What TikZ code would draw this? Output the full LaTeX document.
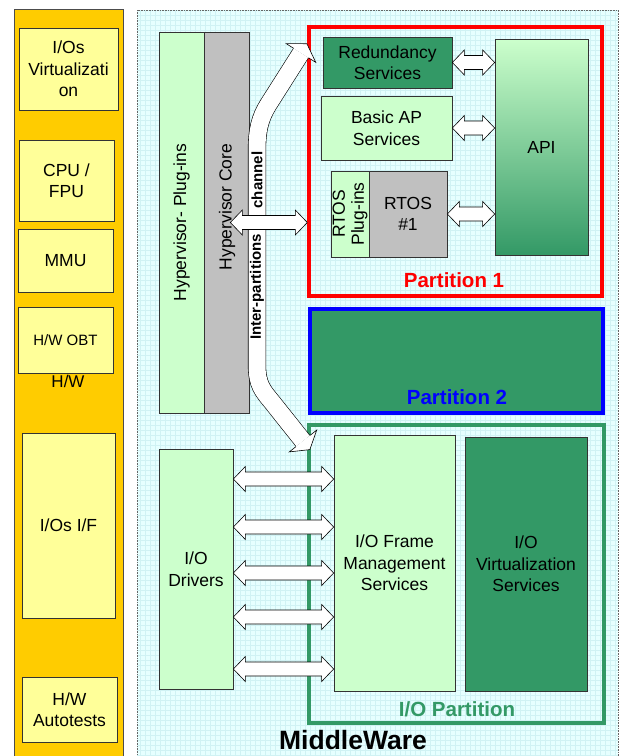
\documentclass[tikz,border=0pt]{standalone}
\usepackage{fontspec}
\setmainfont{Liberation Sans}
\usetikzlibrary{calc}

\definecolor{hworange}{HTML}{FFCC00}
\definecolor{hwyellow}{HTML}{FFFF99}
\definecolor{palegreen}{HTML}{CCFFCC}
\definecolor{seagreen}{HTML}{339966}
\definecolor{coregray}{HTML}{C0C0C0}
\definecolor{mwcyan}{HTML}{E6FFFF}
\definecolor{mwgrid}{HTML}{D0F2F4}

\tikzset{
  box/.style={draw=black!80, line width=0.7pt, inner sep=0pt, align=center, font=\fontsize{17.5}{21.5}\selectfont},
  hwbox/.style={box, fill=hwyellow},
  swbox/.style={box, fill=palegreen},
  dkbox/.style={box, fill=seagreen},
  graybox/.style={box, fill=coregray},
  partframe/.style={line width=3.4pt, inner sep=0pt},
  partlabel/.style={font=\fontsize{20.5}{24}\selectfont\bfseries},
  chanlabel/.style={rotate=90, fill=white, inner sep=1pt, font=\fontsize{15}{17}\selectfont\bfseries},
  blockarr/.style={draw=black, fill=white, line width=0.6pt, line join=miter},
}

\def\dblarrow(#1)(#2){
  \coordinate (da) at (#1);
  \coordinate (db) at (#2);
  \draw[blockarr] (da) -- ([shift={(12,-12.5)}]da) -- ([shift={(12,-7)}]da) -- ([shift={(-12,-7)}]db) -- ([shift={(-12,-12.5)}]db) -- (db) -- ([shift={(-12,12.5)}]db) -- ([shift={(-12,7)}]db) -- ([shift={(12,7)}]da) -- ([shift={(12,12.5)}]da) -- cycle;
}
\def\bendhead(#1)(#2){
  \begin{scope}[shift={(#1)}, rotate=#2]
    \fill[white] (0,-9) -- (0,-17.5) -- (11,0) -- (0,17.5) -- (0,9) -- cycle;
    \draw[line width=0.6pt, line join=miter] (0,-9) -- (0,-17.5) -- (11,0) -- (0,17.5) -- (0,9);
  \end{scope}
}

\begin{document}
\begin{tikzpicture}[x=1pt, y=-1pt]
  %%%%% START %%%%%
  \useasboundingbox (0,0) rectangle (622,756);

  % H/W column
  \draw[fill=hworange, draw=black!70, line width=0.7pt] (14,9) rectangle (123,760);
  \node[hwbox, minimum width=99pt, minimum height=82pt] (iovirt) at (68.5,69) {I/Os\\Virtualizati\\on};
  \node[hwbox, minimum width=95pt, minimum height=81pt] (cpu) at (66.5,180.5) {CPU /\\FPU};
  \node[hwbox, minimum width=95pt, minimum height=63pt] (mmu) at (65.5,260.5) {MMU};
  \node[hwbox, minimum width=95pt, minimum height=66pt, font=\fontsize{15}{18}\selectfont] (obt) at (65.5,340) {H/W OBT};
  \node[font=\fontsize{17}{20}\selectfont, inner sep=0pt] (hwlabel) at (68,381) {H/W};
  \node[hwbox, minimum width=93pt, minimum height=185pt] (iosif) at (68.5,525.5) {I/Os I/F};
  \node[hwbox, minimum width=95pt, minimum height=65pt] (autotest) at (69.5,709.5) {H/W\\Autotests};

  % MiddleWare
  \fill[mwcyan] (137,10) rectangle (618,760);
  \draw[mwgrid, line width=0.3pt, step=5pt] (137,756) grid (618,10);
  \draw[black!60, densely dotted, line width=0.6pt] (137,10) rectangle (618,760);
  \node[font=\fontsize{26.5}{30}\selectfont\bfseries, inner sep=0pt] (mwlabel) at (353,740) {MiddleWare};

  % hypervisor
  \node[swbox, minimum width=45pt, minimum height=381pt] (hypplug) at (181.5,222.5) {};
  \node[rotate=90, font=\fontsize{17.5}{21}\selectfont] at (hypplug) {Hypervisor- Plug-ins};
  \node[graybox, minimum width=45pt, minimum height=381pt] (hypcore) at (226.5,222.5) {};
  \node[rotate=90, font=\fontsize{17.5}{21}\selectfont] at (227,207) {Hypervisor Core};

  % partition 1
  \node[partframe, draw=red, minimum width=293pt, minimum height=269pt] (p1) at (455.5,161.5) {};
  \node[dkbox, minimum width=129pt, minimum height=51pt] (redund) at (387.5,62.5) {Redundancy\\Services};
  \node[swbox, minimum width=131pt, minimum height=64pt] (basicap) at (386.5,128) {Basic AP\\Services};
  \node[swbox, minimum width=38pt, minimum height=86pt] (rtosplug) at (350,214) {};
  \node[rotate=90, align=center, font=\fontsize{17.5}{19}\selectfont] at (rtosplug) {RTOS\\Plug-ins};
  \node[graybox, minimum width=78pt, minimum height=86pt] (rtos) at (408,214) {RTOS\\\#1};
  \node[box, top color=palegreen, bottom color=seagreen, minimum width=93pt, minimum height=216pt] (api) at (541.5,147) {API};
  \node[partlabel, text=red] at (454,280) {Partition 1};

  \dblarrow(redund.east)(api.west |- redund.east);
  \dblarrow(basicap.east)(api.west |- basicap.east);
  \dblarrow(rtos.east)(api.west |- rtos.east);

  % partition 2
  \node[partframe, draw=blue, fill=seagreen, minimum width=293pt, minimum height=104pt] (p2) at (456.5,361) {};
  \node[partlabel, text=blue] at (457,397) {Partition 2};

  % I/O partition
  \node[partframe, draw=seagreen, minimum width=295pt, minimum height=298pt] (iop) at (456.5,574) {};
  \node[swbox, minimum width=121pt, minimum height=256pt] (frame) at (394.5,563) {I/O Frame\\Management\\Services};
  \node[dkbox, minimum width=122pt, minimum height=254pt] (iovs) at (526,564) {I/O\\Virtualization\\Services};
  \node[partlabel, text=seagreen] at (457,709) {I/O Partition};
  \node[swbox, minimum width=74pt, minimum height=240pt] (drv) at (196,569) {I/O\\Drivers};

  \dblarrow([yshift=90pt]drv.east)(frame.west |- da);
  \dblarrow([yshift=42pt]drv.east)(frame.west |- da);
  \dblarrow([yshift=-4pt]drv.east)(frame.west |- da);
  \dblarrow([yshift=-48pt]drv.east)(frame.west |- da);
  \dblarrow([yshift=-100pt]drv.east)(frame.west |- da);

  % inter-partitions channel
  \coordinate (chtop) at (301,53);
  \coordinate (chbot) at (303,441);
  \draw[line width=0.6pt, double=white, double distance=17pt] (chtop) -- (268,105) .. controls (260,118) and (257,130) .. (257,150) -- (257,365) .. controls (257,385) and (263,391) .. (272,402) -- (chbot);
  \bendhead(chtop)(57.6);
  \bendhead(chbot)(-51.5);
  \node[chanlabel] (chan) at (257,180) {channel};
  \node[chanlabel] (inter) at (257,287) {Inter-partitions};

  \dblarrow([xshift=-19pt]hypcore.east)(p1.west |- hypcore.east);

  %%%%% END %%%%%
\end{tikzpicture}
\end{document}
